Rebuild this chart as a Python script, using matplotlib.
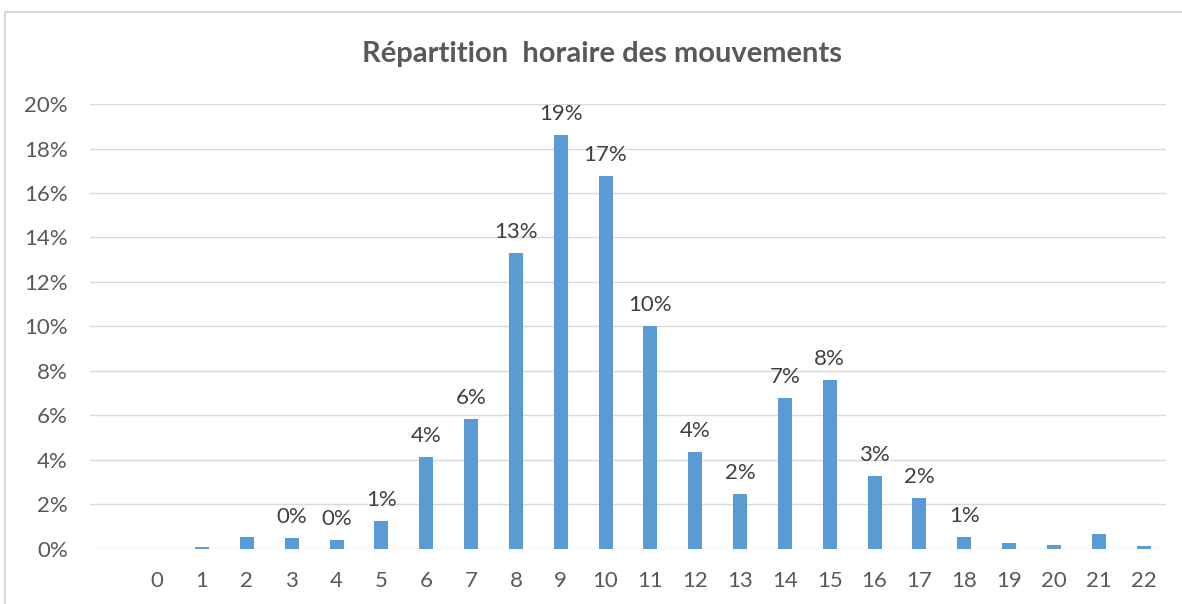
import matplotlib.pyplot as plt
from matplotlib.patches import Rectangle

hours = list(range(23))
shares = [0.0, 0.08, 0.53, 0.48, 0.42, 1.27, 4.13, 5.84, 13.3, 18.6, 16.76, 10.0,
          4.36, 2.47, 6.79, 7.6, 3.28, 2.3, 0.52, 0.27, 0.2, 0.67, 0.13]
labelled = list(range(3, 19))

plt.rcParams['font.family'] = ['Lato', 'DejaVu Sans']

fig = plt.figure(figsize=(11.82, 6.04), dpi=100)
ax = fig.add_axes([0.0761, 0.0911, 0.9104, 0.7367])

bars = ax.bar(hours, shares, width=0.31, color='#5B9BD5', zorder=3)

for h in labelled:
    v = shares[h]
    ax.annotate(f"{v:.0f}%", (h, v), xytext=(0, 8), textcoords='offset points',
                ha='center', va='bottom', fontsize=16, color='#404040')

ax.set_xlim(-1.5, 22.5)
ax.set_ylim(0, 20)
ax.set_yticks(range(0, 21, 2))
ax.set_yticklabels([f"{t}%" for t in range(0, 21, 2)])
ax.set_xticks(hours)
ax.set_xticklabels([str(h) for h in hours])
ax.tick_params(axis='both', length=0, labelsize=16, labelcolor='#595959')
ax.tick_params(axis='x', pad=16)
ax.tick_params(axis='y', pad=16)
ax.grid(axis='y', color='#d9d9d9', linewidth=1, zorder=0)
for s in ax.spines.values():
    s.set_visible(False)

fig.text(0.509, 0.91, "Répartition  horaire des mouvements", ha='center', va='center',
         fontsize=21, fontweight='bold', color='#595959')

# chart frame
fig.add_artist(Rectangle((0.004, -0.05), 1.2, 1.03, transform=fig.transFigure,
                         fill=False, edgecolor='#d0d0d0', linewidth=1.2))

fig.savefig("out.png", dpi=100)
